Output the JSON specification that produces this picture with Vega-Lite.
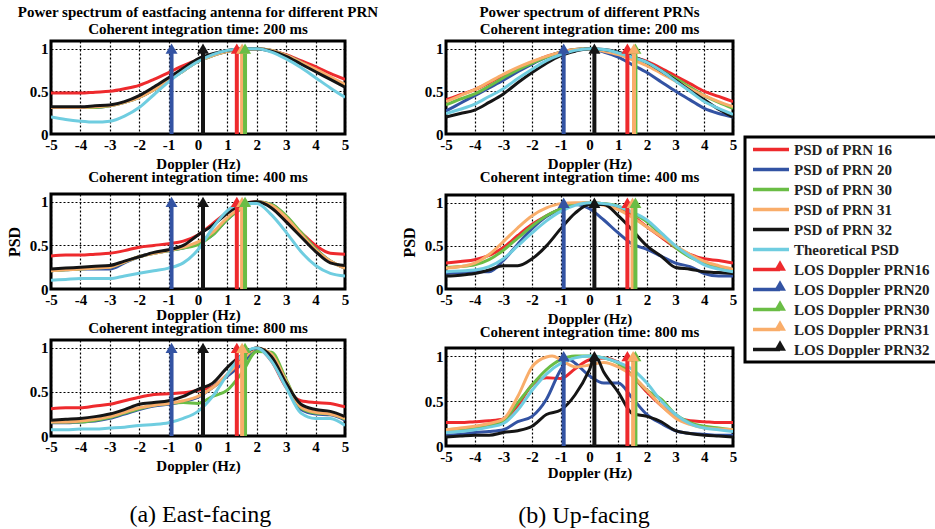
{
"$schema": "https://vega.github.io/schema/vega-lite/v6.json",
"background": "white",
"padding": {"left": 4, "top": 3, "right": 0, "bottom": 0},
"datasets": {
"curves": [
{"p":"E200","x":-5,"p16":0.48,"p20":0.31,"p30":0.31,"p31":0.31,"p32":0.32,"th":0.20},
{"p":"E200","x":-4.5,"p16":0.48,"p20":0.31,"p30":0.31,"p31":0.31,"p32":0.32,"th":0.17},
{"p":"E200","x":-4,"p16":0.48,"p20":0.31,"p30":0.31,"p31":0.31,"p32":0.32,"th":0.15},
{"p":"E200","x":-3.5,"p16":0.49,"p20":0.31,"p30":0.31,"p31":0.32,"p32":0.33,"th":0.14},
{"p":"E200","x":-3,"p16":0.50,"p20":0.33,"p30":0.33,"p31":0.33,"p32":0.34,"th":0.15},
{"p":"E200","x":-2.5,"p16":0.53,"p20":0.37,"p30":0.37,"p31":0.37,"p32":0.38,"th":0.21},
{"p":"E200","x":-2,"p16":0.57,"p20":0.43,"p30":0.43,"p31":0.43,"p32":0.45,"th":0.31},
{"p":"E200","x":-1.5,"p16":0.64,"p20":0.52,"p30":0.52,"p31":0.52,"p32":0.55,"th":0.46},
{"p":"E200","x":-1,"p16":0.72,"p20":0.63,"p30":0.63,"p31":0.63,"p32":0.66,"th":0.61},
{"p":"E200","x":-0.5,"p16":0.80,"p20":0.74,"p30":0.74,"p31":0.74,"p32":0.77,"th":0.74},
{"p":"E200","x":0,"p16":0.87,"p20":0.85,"p30":0.85,"p31":0.85,"p32":0.88,"th":0.85},
{"p":"E200","x":0.5,"p16":0.93,"p20":0.92,"p30":0.92,"p31":0.92,"p32":0.94,"th":0.93},
{"p":"E200","x":1,"p16":0.97,"p20":0.97,"p30":0.97,"p31":0.97,"p32":0.98,"th":0.98},
{"p":"E200","x":1.5,"p16":1.0,"p20":0.99,"p30":0.99,"p31":0.99,"p32":1.0,"th":1.0},
{"p":"E200","x":2,"p16":1.0,"p20":1.0,"p30":1.0,"p31":1.0,"p32":1.0,"th":1.0},
{"p":"E200","x":2.5,"p16":0.98,"p20":0.98,"p30":0.98,"p31":0.98,"p32":0.97,"th":0.96},
{"p":"E200","x":3,"p16":0.93,"p20":0.92,"p30":0.92,"p31":0.92,"p32":0.91,"th":0.88},
{"p":"E200","x":3.5,"p16":0.86,"p20":0.84,"p30":0.84,"p31":0.84,"p32":0.82,"th":0.78},
{"p":"E200","x":4,"p16":0.79,"p20":0.75,"p30":0.75,"p31":0.76,"p32":0.73,"th":0.66},
{"p":"E200","x":4.5,"p16":0.71,"p20":0.66,"p30":0.66,"p31":0.67,"p32":0.64,"th":0.54},
{"p":"E200","x":5,"p16":0.64,"p20":0.57,"p30":0.57,"p31":0.58,"p32":0.55,"th":0.43},
{"p":"E400","x":-5,"p16":0.38,"p20":0.21,"p30":0.21,"p31":0.21,"p32":0.23,"th":0.10},
{"p":"E400","x":-4.5,"p16":0.39,"p20":0.22,"p30":0.22,"p31":0.22,"p32":0.24,"th":0.11},
{"p":"E400","x":-4,"p16":0.39,"p20":0.23,"p30":0.23,"p31":0.23,"p32":0.25,"th":0.12},
{"p":"E400","x":-3.5,"p16":0.40,"p20":0.23,"p30":0.24,"p31":0.24,"p32":0.26,"th":0.12},
{"p":"E400","x":-3,"p16":0.41,"p20":0.23,"p30":0.25,"p31":0.25,"p32":0.27,"th":0.12},
{"p":"E400","x":-2.5,"p16":0.44,"p20":0.30,"p30":0.31,"p31":0.31,"p32":0.32,"th":0.15},
{"p":"E400","x":-2,"p16":0.48,"p20":0.37,"p30":0.37,"p31":0.37,"p32":0.37,"th":0.18},
{"p":"E400","x":-1.5,"p16":0.50,"p20":0.41,"p30":0.41,"p31":0.41,"p32":0.42,"th":0.21},
{"p":"E400","x":-1,"p16":0.52,"p20":0.44,"p30":0.44,"p31":0.44,"p32":0.45,"th":0.24},
{"p":"E400","x":-0.5,"p16":0.55,"p20":0.47,"p30":0.47,"p31":0.48,"p32":0.50,"th":0.30},
{"p":"E400","x":0,"p16":0.62,"p20":0.52,"p30":0.51,"p31":0.54,"p32":0.62,"th":0.45},
{"p":"E400","x":0.5,"p16":0.75,"p20":0.62,"p30":0.62,"p31":0.65,"p32":0.73,"th":0.70},
{"p":"E400","x":1,"p16":0.88,"p20":0.80,"p30":0.80,"p31":0.82,"p32":0.87,"th":0.90},
{"p":"E400","x":1.5,"p16":0.97,"p20":0.93,"p30":0.93,"p31":0.94,"p32":0.97,"th":0.98},
{"p":"E400","x":2,"p16":1.0,"p20":1.0,"p30":1.0,"p31":1.0,"p32":1.0,"th":0.98},
{"p":"E400","x":2.5,"p16":0.95,"p20":0.97,"p30":0.97,"p31":0.96,"p32":0.93,"th":0.85},
{"p":"E400","x":3,"p16":0.80,"p20":0.83,"p30":0.84,"p31":0.82,"p32":0.77,"th":0.65},
{"p":"E400","x":3.5,"p16":0.65,"p20":0.64,"p30":0.65,"p31":0.63,"p32":0.60,"th":0.43},
{"p":"E400","x":4,"p16":0.50,"p20":0.46,"p30":0.46,"p31":0.45,"p32":0.43,"th":0.27},
{"p":"E400","x":4.5,"p16":0.41,"p20":0.32,"p30":0.32,"p31":0.32,"p32":0.30,"th":0.18},
{"p":"E400","x":5,"p16":0.40,"p20":0.24,"p30":0.24,"p31":0.24,"p32":0.27,"th":0.15},
{"p":"E800","x":-5,"p16":0.31,"p20":0.15,"p30":0.16,"p31":0.16,"p32":0.18,"th":0.07},
{"p":"E800","x":-4.5,"p16":0.32,"p20":0.15,"p30":0.16,"p31":0.16,"p32":0.19,"th":0.07},
{"p":"E800","x":-4,"p16":0.32,"p20":0.16,"p30":0.16,"p31":0.17,"p32":0.20,"th":0.08},
{"p":"E800","x":-3.5,"p16":0.34,"p20":0.17,"p30":0.18,"p31":0.19,"p32":0.22,"th":0.08},
{"p":"E800","x":-3,"p16":0.36,"p20":0.20,"p30":0.21,"p31":0.22,"p32":0.25,"th":0.09},
{"p":"E800","x":-2.5,"p16":0.40,"p20":0.25,"p30":0.26,"p31":0.27,"p32":0.30,"th":0.10},
{"p":"E800","x":-2,"p16":0.44,"p20":0.30,"p30":0.31,"p31":0.32,"p32":0.36,"th":0.12},
{"p":"E800","x":-1.5,"p16":0.47,"p20":0.34,"p30":0.35,"p31":0.35,"p32":0.38,"th":0.13},
{"p":"E800","x":-1,"p16":0.48,"p20":0.36,"p30":0.37,"p31":0.37,"p32":0.40,"th":0.15},
{"p":"E800","x":-0.5,"p16":0.49,"p20":0.39,"p30":0.38,"p31":0.40,"p32":0.45,"th":0.20},
{"p":"E800","x":0,"p16":0.52,"p20":0.44,"p30":0.37,"p31":0.45,"p32":0.53,"th":0.28},
{"p":"E800","x":0.5,"p16":0.56,"p20":0.55,"p30":0.45,"p31":0.55,"p32":0.60,"th":0.45},
{"p":"E800","x":1,"p16":0.70,"p20":0.68,"p30":0.52,"p31":0.70,"p32":0.78,"th":0.70},
{"p":"E800","x":1.5,"p16":0.90,"p20":0.82,"p30":0.72,"p31":0.86,"p32":0.92,"th":0.92},
{"p":"E800","x":2,"p16":1.0,"p20":0.98,"p30":0.96,"p31":1.0,"p32":1.0,"th":1.0},
{"p":"E800","x":2.5,"p16":0.85,"p20":0.92,"p30":0.95,"p31":0.93,"p32":0.90,"th":0.85},
{"p":"E800","x":3,"p16":0.55,"p20":0.62,"p30":0.64,"p31":0.62,"p32":0.60,"th":0.55},
{"p":"E800","x":3.5,"p16":0.40,"p20":0.30,"p30":0.32,"p31":0.33,"p32":0.36,"th":0.26},
{"p":"E800","x":4,"p16":0.38,"p20":0.25,"p30":0.26,"p31":0.27,"p32":0.30,"th":0.20},
{"p":"E800","x":4.5,"p16":0.37,"p20":0.24,"p30":0.25,"p31":0.25,"p32":0.28,"th":0.20},
{"p":"E800","x":5,"p16":0.33,"p20":0.18,"p30":0.19,"p31":0.20,"p32":0.22,"th":0.12},
{"p":"U200","x":-5,"p16":0.40,"p20":0.27,"p30":0.34,"p31":0.38,"p32":0.20,"th":0.24},
{"p":"U200","x":-4.5,"p16":0.46,"p20":0.36,"p30":0.41,"p31":0.45,"p32":0.24,"th":0.29},
{"p":"U200","x":-4,"p16":0.52,"p20":0.45,"p30":0.47,"p31":0.52,"p32":0.28,"th":0.35},
{"p":"U200","x":-3.5,"p16":0.60,"p20":0.54,"p30":0.56,"p31":0.61,"p32":0.37,"th":0.44},
{"p":"U200","x":-3,"p16":0.69,"p20":0.63,"p30":0.66,"p31":0.70,"p32":0.47,"th":0.53},
{"p":"U200","x":-2.5,"p16":0.77,"p20":0.73,"p30":0.75,"p31":0.78,"p32":0.60,"th":0.65},
{"p":"U200","x":-2,"p16":0.84,"p20":0.82,"p30":0.83,"p31":0.85,"p32":0.72,"th":0.76},
{"p":"U200","x":-1.5,"p16":0.91,"p20":0.90,"p30":0.90,"p31":0.91,"p32":0.83,"th":0.86},
{"p":"U200","x":-1,"p16":0.96,"p20":0.96,"p30":0.96,"p31":0.96,"p32":0.92,"th":0.93},
{"p":"U200","x":-0.5,"p16":0.99,"p20":0.99,"p30":0.99,"p31":0.99,"p32":0.97,"th":0.98},
{"p":"U200","x":0,"p16":1.0,"p20":1.0,"p30":1.0,"p31":1.0,"p32":1.0,"th":1.0},
{"p":"U200","x":0.5,"p16":0.98,"p20":0.96,"p30":0.98,"p31":0.97,"p32":0.99,"th":0.99},
{"p":"U200","x":1,"p16":0.95,"p20":0.90,"p30":0.94,"p31":0.93,"p32":0.96,"th":0.95},
{"p":"U200","x":1.5,"p16":0.90,"p20":0.81,"p30":0.89,"p31":0.87,"p32":0.91,"th":0.90},
{"p":"U200","x":2,"p16":0.85,"p20":0.72,"p30":0.83,"p31":0.80,"p32":0.84,"th":0.84},
{"p":"U200","x":2.5,"p16":0.77,"p20":0.61,"p30":0.74,"p31":0.71,"p32":0.74,"th":0.74},
{"p":"U200","x":3,"p16":0.68,"p20":0.50,"p30":0.65,"p31":0.62,"p32":0.63,"th":0.62},
{"p":"U200","x":3.5,"p16":0.59,"p20":0.40,"p30":0.55,"p31":0.53,"p32":0.51,"th":0.50},
{"p":"U200","x":4,"p16":0.50,"p20":0.30,"p30":0.45,"p31":0.45,"p32":0.40,"th":0.38},
{"p":"U200","x":4.5,"p16":0.44,"p20":0.24,"p30":0.37,"p31":0.38,"p32":0.29,"th":0.30},
{"p":"U200","x":5,"p16":0.38,"p20":0.20,"p30":0.30,"p31":0.32,"p32":0.20,"th":0.23},
{"p":"U400","x":-5,"p16":0.30,"p20":0.18,"p30":0.25,"p31":0.24,"p32":0.15,"th":0.20},
{"p":"U400","x":-4.5,"p16":0.32,"p20":0.19,"p30":0.26,"p31":0.26,"p32":0.16,"th":0.21},
{"p":"U400","x":-4,"p16":0.34,"p20":0.20,"p30":0.28,"p31":0.30,"p32":0.18,"th":0.22},
{"p":"U400","x":-3.5,"p16":0.39,"p20":0.20,"p30":0.34,"p31":0.40,"p32":0.22,"th":0.26},
{"p":"U400","x":-3,"p16":0.48,"p20":0.33,"p30":0.45,"p31":0.55,"p32":0.27,"th":0.35},
{"p":"U400","x":-2.5,"p16":0.62,"p20":0.52,"p30":0.59,"p31":0.71,"p32":0.27,"th":0.50},
{"p":"U400","x":-2,"p16":0.75,"p20":0.70,"p30":0.73,"p31":0.85,"p32":0.35,"th":0.65},
{"p":"U400","x":-1.5,"p16":0.85,"p20":0.84,"p30":0.85,"p31":0.94,"p32":0.50,"th":0.79},
{"p":"U400","x":-1,"p16":0.93,"p20":0.93,"p30":0.93,"p31":0.99,"p32":0.70,"th":0.90},
{"p":"U400","x":-0.5,"p16":0.98,"p20":0.98,"p30":0.98,"p31":1.0,"p32":0.88,"th":0.97},
{"p":"U400","x":0,"p16":1.0,"p20":0.93,"p30":1.0,"p31":1.0,"p32":0.98,"th":1.0},
{"p":"U400","x":0.5,"p16":0.99,"p20":0.80,"p30":0.99,"p31":0.97,"p32":0.98,"th":0.99},
{"p":"U400","x":1,"p16":0.95,"p20":0.65,"p30":0.96,"p31":0.92,"p32":0.85,"th":0.96},
{"p":"U400","x":1.5,"p16":0.85,"p20":0.52,"p30":0.88,"p31":0.83,"p32":0.68,"th":0.89},
{"p":"U400","x":2,"p16":0.72,"p20":0.46,"p30":0.78,"p31":0.72,"p32":0.50,"th":0.80},
{"p":"U400","x":2.5,"p16":0.60,"p20":0.38,"p30":0.63,"p31":0.61,"p32":0.38,"th":0.65},
{"p":"U400","x":3,"p16":0.48,"p20":0.30,"p30":0.48,"p31":0.50,"p32":0.25,"th":0.50},
{"p":"U400","x":3.5,"p16":0.40,"p20":0.26,"p30":0.37,"p31":0.40,"p32":0.23,"th":0.38},
{"p":"U400","x":4,"p16":0.35,"p20":0.18,"p30":0.30,"p31":0.32,"p32":0.20,"th":0.28},
{"p":"U400","x":4.5,"p16":0.33,"p20":0.15,"p30":0.25,"p31":0.27,"p32":0.19,"th":0.23},
{"p":"U400","x":5,"p16":0.30,"p20":0.15,"p30":0.22,"p31":0.23,"p32":0.18,"th":0.20},
{"p":"U800","x":-5,"p16":0.26,"p20":0.12,"p30":0.18,"p31":0.18,"p32":0.10,"th":0.15},
{"p":"U800","x":-4.5,"p16":0.26,"p20":0.13,"p30":0.19,"p31":0.20,"p32":0.11,"th":0.16},
{"p":"U800","x":-4,"p16":0.27,"p20":0.15,"p30":0.20,"p31":0.22,"p32":0.12,"th":0.18},
{"p":"U800","x":-3.5,"p16":0.28,"p20":0.16,"p30":0.23,"p31":0.25,"p32":0.12,"th":0.21},
{"p":"U800","x":-3,"p16":0.30,"p20":0.18,"p30":0.28,"p31":0.30,"p32":0.15,"th":0.25},
{"p":"U800","x":-2.5,"p16":0.45,"p20":0.27,"p30":0.48,"p31":0.55,"p32":0.17,"th":0.40},
{"p":"U800","x":-2,"p16":0.68,"p20":0.33,"p30":0.68,"p31":0.88,"p32":0.22,"th":0.62},
{"p":"U800","x":-1.5,"p16":0.76,"p20":0.52,"p30":0.85,"p31":0.99,"p32":0.35,"th":0.80},
{"p":"U800","x":-1.3,"p31":1.0},
{"p":"U800","x":-1,"p16":0.75,"p20":0.85,"p30":0.96,"p31":0.96,"p32":0.40,"th":0.92},
{"p":"U800","x":-0.7,"p20":0.96},
{"p":"U800","x":-0.5,"p16":0.86,"p20":0.92,"p30":1.0,"p31":0.88,"p32":0.57,"th":0.98},
{"p":"U800","x":0,"p16":0.96,"p20":0.78,"p30":1.0,"p31":0.90,"p32":0.85,"th":1.0},
{"p":"U800","x":0.2,"p32":1.0},
{"p":"U800","x":0.5,"p16":0.98,"p20":0.70,"p30":0.98,"p31":0.93,"p32":0.82,"th":0.98},
{"p":"U800","x":1,"p16":0.93,"p20":0.70,"p30":0.92,"p31":0.88,"p32":0.60,"th":0.93},
{"p":"U800","x":1.5,"p16":0.78,"p20":0.53,"p30":0.78,"p31":0.78,"p32":0.36,"th":0.85},
{"p":"U800","x":2,"p16":0.60,"p20":0.35,"p30":0.62,"p31":0.62,"p32":0.33,"th":0.70},
{"p":"U800","x":2.5,"p16":0.45,"p20":0.25,"p30":0.52,"p31":0.45,"p32":0.27,"th":0.50},
{"p":"U800","x":3,"p16":0.33,"p20":0.17,"p30":0.35,"p31":0.31,"p32":0.17,"th":0.35},
{"p":"U800","x":3.5,"p16":0.28,"p20":0.14,"p30":0.26,"p31":0.24,"p32":0.14,"th":0.25},
{"p":"U800","x":4,"p16":0.27,"p20":0.13,"p30":0.22,"p31":0.20,"p32":0.12,"th":0.20},
{"p":"U800","x":4.5,"p16":0.26,"p20":0.12,"p30":0.20,"p31":0.19,"p32":0.11,"th":0.18},
{"p":"U800","x":5,"p16":0.26,"p20":0.12,"p30":0.18,"p31":0.18,"p32":0.10,"th":0.16}
],
"arrows": [
{"p":"E200","s":"p20","x":-0.9},{"p":"E200","s":"p32","x":0.17},{"p":"E200","s":"p16","x":1.32},{"p":"E200","s":"p31","x":1.5},{"p":"E200","s":"p30","x":1.6},
{"p":"E400","s":"p20","x":-0.9},{"p":"E400","s":"p32","x":0.17},{"p":"E400","s":"p16","x":1.32},{"p":"E400","s":"p31","x":1.5},{"p":"E400","s":"p30","x":1.6},
{"p":"E800","s":"p20","x":-0.9},{"p":"E800","s":"p32","x":0.17},{"p":"E800","s":"p16","x":1.32},{"p":"E800","s":"p30","x":1.6},{"p":"E800","s":"p31","x":1.5},
{"p":"U200","s":"p20","x":-0.9},{"p":"U200","s":"p32","x":0.17},{"p":"U200","s":"p16","x":1.32},{"p":"U200","s":"p30","x":1.6},{"p":"U200","s":"p31","x":1.55},
{"p":"U400","s":"p20","x":-0.9},{"p":"U400","s":"p32","x":0.17},{"p":"U400","s":"p16","x":1.32},{"p":"U400","s":"p31","x":1.5},{"p":"U400","s":"p30","x":1.6},
{"p":"U800","s":"p20","x":-0.9},{"p":"U800","s":"p32","x":0.17},{"p":"U800","s":"p16","x":1.32},{"p":"U800","s":"p30","x":1.6},{"p":"U800","s":"p31","x":1.52}
],
"legend": [
{"s":"p16","label":"PSD of PRN 16","kind":"line"},
{"s":"p20","label":"PSD of PRN 20","kind":"line"},
{"s":"p30","label":"PSD of PRN 30","kind":"line"},
{"s":"p31","label":"PSD of PRN 31","kind":"line"},
{"s":"p32","label":"PSD of PRN 32","kind":"line"},
{"s":"th","label":"Theoretical PSD","kind":"line"},
{"s":"p16","label":"LOS Doppler PRN16","kind":"arrow"},
{"s":"p20","label":"LOS Doppler PRN20","kind":"arrow"},
{"s":"p30","label":"LOS Doppler PRN30","kind":"arrow"},
{"s":"p31","label":"LOS Doppler PRN31","kind":"arrow"},
{"s":"p32","label":"LOS Doppler PRN32","kind":"arrow"}
]
},
"spacing": 19,
"hconcat": [
{
"spacing": -5,
"title": {"text": "(a) East-facing", "orient": "bottom", "anchor": "middle", "dx": 8, "font": "Liberation Serif, Times New Roman, serif", "fontSize": 24, "fontWeight": "normal", "offset": 28},
"vconcat": [
{"width": 294, "height": 93,
"title": {"text": ["Power spectrum of eastfacing antenna for different PRN", "Coherent integration time: 200 ms"]},
"layer": [
{"data": {"name": "curves"}, "transform": [{"filter": "datum.p === 'E200'"}, {"fold": ["p16","p20","p30","p31","p32","th"], "as": ["s","y"]}, {"filter": "isValid(datum.y)"}],
"mark": {"type": "line", "strokeWidth": 3, "interpolate": "monotone", "clip": true},
"encoding": {
"x": {"field": "x", "type": "quantitative", "scale": {"domain": [-5,5], "nice": false}, "axis": {"title": "Doppler (Hz)", "values": [-5,-4,-3,-2,-1,0,1,2,3,4,5], "tickCount": 20, "labelExpr": "'' + datum.value"}},
"y": {"field": "y", "type": "quantitative", "scale": {"domain": [0,1.09], "nice": false}, "axis": {"title": null, "values": [0,0.5,1], "tickCount": 10, "labelExpr": "'' + datum.value"}},
"color": {"field": "s", "type": "nominal", "scale": {"domain": ["p16","p20","p30","p31","p32","th"], "range": ["#ee2a2d","#3353a3","#6abd45","#f9ad6a","#151515","#6fcde0"]}, "legend": null}}},
{"data": {"name": "arrows"}, "transform": [{"filter": "datum.p === 'E200'"}], "mark": {"type": "rule", "strokeWidth": 4},
"encoding": {"x": {"field": "x", "type": "quantitative"}, "y": {"datum": 0}, "y2": {"datum": 0.95}, "color": {"field": "s", "type": "nominal", "legend": null}}},
{"data": {"name": "arrows"}, "transform": [{"filter": "datum.p === 'E200'"}], "mark": {"type": "point", "shape": "triangle-up", "filled": true, "size": 144, "opacity": 1},
"encoding": {"x": {"field": "x", "type": "quantitative"}, "y": {"datum": 1.0}, "color": {"field": "s", "type": "nominal", "legend": null}}}
]},
{"width": 294, "height": 95,
"title": {"text": "Coherent integration time: 400 ms", "offset": 9},
"layer": [
{"data": {"name": "curves"}, "transform": [{"filter": "datum.p === 'E400'"}, {"fold": ["p16","p20","p30","p31","p32","th"], "as": ["s","y"]}, {"filter": "isValid(datum.y)"}],
"mark": {"type": "line", "strokeWidth": 3, "interpolate": "monotone", "clip": true},
"encoding": {
"x": {"field": "x", "type": "quantitative", "scale": {"domain": [-5,5], "nice": false}, "axis": {"title": "Doppler (Hz)", "titlePadding": 0, "values": [-5,-4,-3,-2,-1,0,1,2,3,4,5], "tickCount": 20, "labelExpr": "'' + datum.value"}},
"y": {"field": "y", "type": "quantitative", "scale": {"domain": [0,1.09], "nice": false}, "axis": {"title": "PSD", "titleFontSize": 16, "titlePadding": 7, "values": [0,0.5,1], "tickCount": 10, "labelExpr": "'' + datum.value"}},
"color": {"field": "s", "type": "nominal", "legend": null}}},
{"data": {"name": "arrows"}, "transform": [{"filter": "datum.p === 'E400'"}], "mark": {"type": "rule", "strokeWidth": 4},
"encoding": {"x": {"field": "x", "type": "quantitative"}, "y": {"datum": 0}, "y2": {"datum": 0.95}, "color": {"field": "s", "type": "nominal", "legend": null}}},
{"data": {"name": "arrows"}, "transform": [{"filter": "datum.p === 'E400'"}], "mark": {"type": "point", "shape": "triangle-up", "filled": true, "size": 144, "opacity": 1},
"encoding": {"x": {"field": "x", "type": "quantitative"}, "y": {"datum": 1.0}, "color": {"field": "s", "type": "nominal", "legend": null}}}
]},
{"width": 294, "height": 96,
"title": {"text": "Coherent integration time: 800 ms", "offset": 4},
"layer": [
{"data": {"name": "curves"}, "transform": [{"filter": "datum.p === 'E800'"}, {"fold": ["p16","p20","p30","p31","p32","th"], "as": ["s","y"]}, {"filter": "isValid(datum.y)"}],
"mark": {"type": "line", "strokeWidth": 3, "interpolate": "monotone", "clip": true},
"encoding": {
"x": {"field": "x", "type": "quantitative", "scale": {"domain": [-5,5], "nice": false}, "axis": {"title": "Doppler (Hz)", "values": [-5,-4,-3,-2,-1,0,1,2,3,4,5], "tickCount": 20, "labelExpr": "'' + datum.value"}},
"y": {"field": "y", "type": "quantitative", "scale": {"domain": [0,1.09], "nice": false}, "axis": {"title": null, "values": [0,0.5,1], "tickCount": 10, "labelExpr": "'' + datum.value"}},
"color": {"field": "s", "type": "nominal", "legend": null}}},
{"data": {"name": "arrows"}, "transform": [{"filter": "datum.p === 'E800'"}], "mark": {"type": "rule", "strokeWidth": 4},
"encoding": {"x": {"field": "x", "type": "quantitative"}, "y": {"datum": 0}, "y2": {"datum": 0.95}, "color": {"field": "s", "type": "nominal", "legend": null}}},
{"data": {"name": "arrows"}, "transform": [{"filter": "datum.p === 'E800'"}], "mark": {"type": "point", "shape": "triangle-up", "filled": true, "size": 144, "opacity": 1},
"encoding": {"x": {"field": "x", "type": "quantitative"}, "y": {"datum": 1.0}, "color": {"field": "s", "type": "nominal", "legend": null}}}
]}
]
},
{
"spacing": 4,
"hconcat": [
{
"spacing": -5,
"title": {"text": "(b) Up-facing", "orient": "bottom", "anchor": "middle", "dx": 15, "font": "Liberation Serif, Times New Roman, serif", "fontSize": 24, "fontWeight": "normal", "offset": 22},
"vconcat": [
{"width": 287, "height": 93,
"title": {"text": ["Power spectrum of different PRNs", "Coherent integration time: 200 ms"]},
"layer": [
{"data": {"name": "curves"}, "transform": [{"filter": "datum.p === 'U200'"}, {"fold": ["p16","p20","p30","p31","p32","th"], "as": ["s","y"]}, {"filter": "isValid(datum.y)"}],
"mark": {"type": "line", "strokeWidth": 3, "interpolate": "monotone", "clip": true},
"encoding": {
"x": {"field": "x", "type": "quantitative", "scale": {"domain": [-5,5], "nice": false}, "axis": {"title": "Doppler (Hz)", "values": [-5,-4,-3,-2,-1,0,1,2,3,4,5], "tickCount": 20, "labelExpr": "'' + datum.value"}},
"y": {"field": "y", "type": "quantitative", "scale": {"domain": [0,1.09], "nice": false}, "axis": {"title": null, "values": [0,0.5,1], "tickCount": 10, "labelExpr": "'' + datum.value"}},
"color": {"field": "s", "type": "nominal", "legend": null}}},
{"data": {"name": "arrows"}, "transform": [{"filter": "datum.p === 'U200'"}], "mark": {"type": "rule", "strokeWidth": 4},
"encoding": {"x": {"field": "x", "type": "quantitative"}, "y": {"datum": 0}, "y2": {"datum": 0.95}, "color": {"field": "s", "type": "nominal", "legend": null}}},
{"data": {"name": "arrows"}, "transform": [{"filter": "datum.p === 'U200'"}], "mark": {"type": "point", "shape": "triangle-up", "filled": true, "size": 144, "opacity": 1},
"encoding": {"x": {"field": "x", "type": "quantitative"}, "y": {"datum": 1.0}, "color": {"field": "s", "type": "nominal", "legend": null}}}
]},
{"width": 287, "height": 94,
"title": {"text": "Coherent integration time: 400 ms", "offset": 10},
"layer": [
{"data": {"name": "curves"}, "transform": [{"filter": "datum.p === 'U400'"}, {"fold": ["p16","p20","p30","p31","p32","th"], "as": ["s","y"]}, {"filter": "isValid(datum.y)"}],
"mark": {"type": "line", "strokeWidth": 3, "interpolate": "monotone", "clip": true},
"encoding": {
"x": {"field": "x", "type": "quantitative", "scale": {"domain": [-5,5], "nice": false}, "axis": {"title": "Doppler (Hz)", "values": [-5,-4,-3,-2,-1,0,1,2,3,4,5], "tickCount": 20, "labelExpr": "'' + datum.value"}},
"y": {"field": "y", "type": "quantitative", "scale": {"domain": [0,1.09], "nice": false}, "axis": {"title": "PSD", "titleFontSize": 16, "titlePadding": 7, "values": [0,0.5,1], "tickCount": 10, "labelExpr": "'' + datum.value"}},
"color": {"field": "s", "type": "nominal", "legend": null}}},
{"data": {"name": "arrows"}, "transform": [{"filter": "datum.p === 'U400'"}], "mark": {"type": "rule", "strokeWidth": 4},
"encoding": {"x": {"field": "x", "type": "quantitative"}, "y": {"datum": 0}, "y2": {"datum": 0.95}, "color": {"field": "s", "type": "nominal", "legend": null}}},
{"data": {"name": "arrows"}, "transform": [{"filter": "datum.p === 'U400'"}], "mark": {"type": "point", "shape": "triangle-up", "filled": true, "size": 144, "opacity": 1},
"encoding": {"x": {"field": "x", "type": "quantitative"}, "y": {"datum": 1.0}, "color": {"field": "s", "type": "nominal", "legend": null}}}
]},
{"width": 287, "height": 98,
"title": {"text": "Coherent integration time: 800 ms", "offset": 8},
"layer": [
{"data": {"name": "curves"}, "transform": [{"filter": "datum.p === 'U800'"}, {"fold": ["p16","p20","p30","p31","p32","th"], "as": ["s","y"]}, {"filter": "isValid(datum.y)"}],
"mark": {"type": "line", "strokeWidth": 3, "interpolate": "monotone", "clip": true},
"encoding": {
"x": {"field": "x", "type": "quantitative", "scale": {"domain": [-5,5], "nice": false}, "axis": {"title": "Doppler (Hz)", "titlePadding": 1, "values": [-5,-4,-3,-2,-1,0,1,2,3,4,5], "tickCount": 20, "labelExpr": "'' + datum.value"}},
"y": {"field": "y", "type": "quantitative", "scale": {"domain": [0,1.09], "nice": false}, "axis": {"title": null, "values": [0,0.5,1], "tickCount": 10, "labelExpr": "'' + datum.value"}},
"color": {"field": "s", "type": "nominal", "legend": null}}},
{"data": {"name": "arrows"}, "transform": [{"filter": "datum.p === 'U800'"}], "mark": {"type": "rule", "strokeWidth": 4},
"encoding": {"x": {"field": "x", "type": "quantitative"}, "y": {"datum": 0}, "y2": {"datum": 0.95}, "color": {"field": "s", "type": "nominal", "legend": null}}},
{"data": {"name": "arrows"}, "transform": [{"filter": "datum.p === 'U800'"}], "mark": {"type": "point", "shape": "triangle-up", "filled": true, "size": 144, "opacity": 1},
"encoding": {"x": {"field": "x", "type": "quantitative"}, "y": {"datum": 1.0}, "color": {"field": "s", "type": "nominal", "legend": null}}}
]}
]
},
{
"spacing": 0,
"vconcat": [
{"width": 200, "height": 94, "data": {"values": []}, "mark": "text", "encoding": {}, "view": {"stroke": null}},
{"width": 200, "height": 225,
"data": {"name": "legend"},
"layer": [
{"transform": [{"filter": "datum.kind === 'line'"}], "mark": {"type": "rule", "strokeWidth": 3.5},
"encoding": {
"x": {"datum": 0.4, "type": "quantitative", "scale": {"domain": [0,10], "nice": false}, "axis": null},
"x2": {"datum": 2.2},
"y": {"field": "label", "type": "nominal", "scale": {"type": "point", "padding": 0.625, "domain": ["PSD of PRN 16","PSD of PRN 20","PSD of PRN 30","PSD of PRN 31","PSD of PRN 32","Theoretical PSD","LOS Doppler PRN16","LOS Doppler PRN20","LOS Doppler PRN30","LOS Doppler PRN31","LOS Doppler PRN32"]}, "axis": null},
"color": {"field": "s", "type": "nominal", "legend": null}}},
{"transform": [{"filter": "datum.kind === 'arrow'"}], "mark": {"type": "rule", "strokeWidth": 3.5},
"encoding": {"x": {"datum": 0.4, "type": "quantitative"}, "x2": {"datum": 1.75}, "y": {"field": "label", "type": "nominal"}, "color": {"field": "s", "type": "nominal", "legend": null}}},
{"transform": [{"filter": "datum.kind === 'arrow'"}], "mark": {"type": "point", "shape": "triangle-up", "filled": true, "size": 144, "opacity": 1, "yOffset": -4},
"encoding": {"x": {"datum": 1.75, "type": "quantitative"}, "y": {"field": "label", "type": "nominal"}, "color": {"field": "s", "type": "nominal", "legend": null}}},
{"mark": {"type": "text", "align": "left", "baseline": "middle", "font": "Liberation Serif, Times New Roman, serif", "fontWeight": "bold", "fontSize": 15, "color": "#222222"},
"encoding": {"x": {"datum": 2.45, "type": "quantitative"}, "y": {"field": "label", "type": "nominal"}, "text": {"field": "label"}}}
]}
]
}
]
}
],
"config": {
"view": {"stroke": "black", "strokeWidth": 3},
"axis": {"labelFont": "Liberation Serif, Times New Roman, serif", "labelFontWeight": "bold", "labelFontSize": 15, "labelColor": "black", "titleFont": "Liberation Serif, Times New Roman, serif", "titleFontWeight": "bold", "titleFontSize": 15, "titleColor": "black", "domain": false, "ticks": false, "grid": true, "gridColor": "black", "gridDash": [2,2], "gridWidth": 1.2, "gridOpacity": 1, "labelPadding": 3, "labelFlush": false, "labelOverlap": false, "labelBound": false},
"axisX": {"titlePadding": 4},
"title": {"font": "Liberation Serif, Times New Roman, serif", "fontWeight": "bold", "fontSize": 15, "color": "black", "offset": 4, "lineHeight": 17}
}
}
